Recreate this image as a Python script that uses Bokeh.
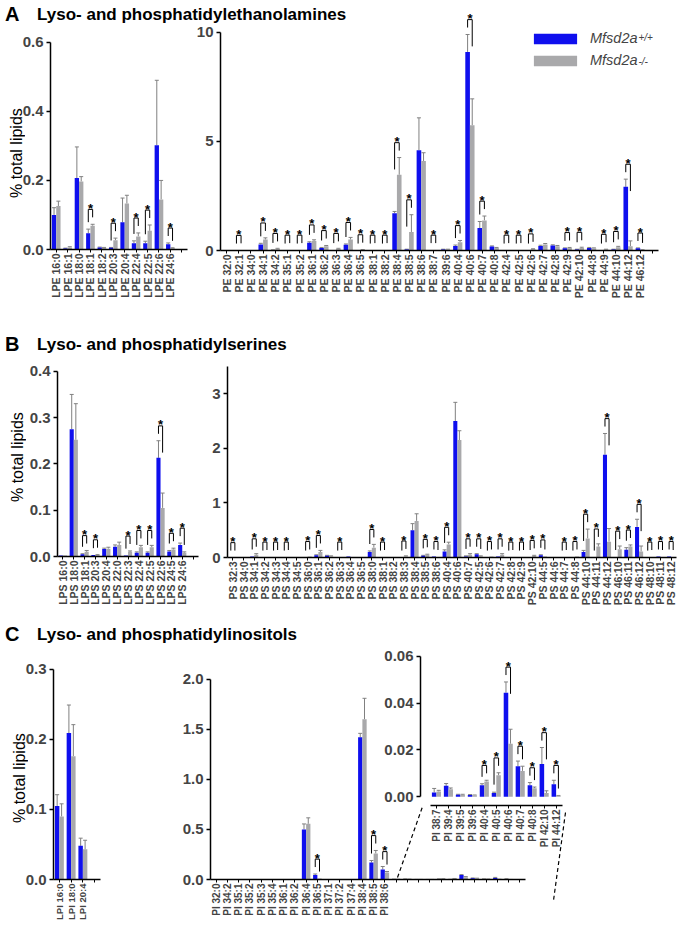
import math
from bokeh.plotting import figure
from bokeh.models import (Range1d, ColumnDataSource, Whisker, TeeHead, FixedTicker,
                          PrintfTickFormatter, Label, Legend, LegendItem, GridBox, Arrow, Div,
                          Column)
from bokeh.embed import file_html
from bokeh.resources import INLINE
from bokeh.core.properties import value

# ---------------- data ----------------
LPE_CATS = ["LPE 16:0", "LPE 16:1", "LPE 18:0", "LPE 18:1", "LPE 18:2", "LPE 20:3",
            "LPE 20:4", "LPE 22:4", "LPE 22:5", "LPE 22:6", "LPE 24:6"]
LPE_WT = [0.100, 0.003, 0.207, 0.047, 0.006, 0.005, 0.079, 0.018, 0.018, 0.302, 0.015]
LPE_WT_SEM = [0.021, 0.001, 0.090, 0.012, 0.001, 0.001, 0.070, 0.007, 0.006, 0.188, 0.004]
LPE_KO = [0.126, 0.006, 0.197, 0.069, 0.005, 0.027, 0.133, 0.038, 0.054, 0.145, 0.004]
LPE_KO_SEM = [0.014, 0.002, 0.014, 0.004, 0.001, 0.006, 0.024, 0.010, 0.017, 0.055, 0.001]
LPE_SIG = ["LPE 18:1", "LPE 20:3", "LPE 22:4", "LPE 22:5", "LPE 24:6"]

PE_CATS = ["PE 32:0", "PE 32:1", "PE 34:0", "PE 34:1", "PE 34:2", "PE 35:1", "PE 35:2",
           "PE 36:1", "PE 36:2", "PE 36:3", "PE 36:4", "PE 36:5", "PE 38:1", "PE 38:2",
           "PE 38:4", "PE 38:5", "PE 38:6", "PE 38:7", "PE 39:6", "PE 40:4", "PE 40:6",
           "PE 40:7", "PE 40:8", "PE 42:4", "PE 42:5", "PE 42:6", "PE 42:7", "PE 42:8",
           "PE 42:9", "PE 42:10", "PE 44:8", "PE 44:9", "PE 44:10", "PE 44:12", "PE 46:12"]
PE_WT = [0.0, 0.0, 0.02, 0.28, 0.02, 0.0, 0.0, 0.35, 0.12, 0.02, 0.26, 0.0, 0.0, 0.0,
         1.71, 0.05, 4.60, 0.02, 0.05, 0.21, 9.10, 1.03, 0.18, 0.0, 0.0, 0.0, 0.21, 0.23,
         0.10, 0.05, 0.12, 0.0, 0.05, 2.92, 0.10]
PE_WT_SEM = [0.0, 0.0, 0.0, 0.05, 0.01, 0.0, 0.0, 0.05, 0.02, 0.0, 0.04, 0.0, 0.0, 0.0,
             0.08, 0.01, 1.48, 0.0, 0.01, 0.04, 0.80, 0.30, 0.03, 0.0, 0.0, 0.0, 0.03, 0.03,
             0.02, 0.01, 0.02, 0.0, 0.01, 0.35, 0.02]
PE_KO = [0.0, 0.01, 0.02, 0.50, 0.08, 0.02, 0.02, 0.44, 0.20, 0.08, 0.50, 0.03, 0.02, 0.02,
         3.47, 0.85, 4.10, 0.02, 0.05, 0.38, 5.74, 1.38, 0.12, 0.02, 0.02, 0.07, 0.28, 0.20,
         0.12, 0.12, 0.10, 0.05, 0.15, 0.20, 0.02]
PE_KO_SEM = [0.0, 0.0, 0.0, 0.08, 0.02, 0.0, 0.0, 0.05, 0.03, 0.02, 0.10, 0.01, 0.0, 0.0,
             0.79, 0.79, 0.38, 0.0, 0.01, 0.08, 1.21, 0.20, 0.02, 0.0, 0.0, 0.01, 0.04, 0.03,
             0.02, 0.03, 0.02, 0.01, 0.04, 0.24, 0.01]
PE_SIG = ["PE 32:1", "PE 34:1", "PE 34:2", "PE 35:1", "PE 35:2", "PE 36:1", "PE 36:2",
          "PE 36:3", "PE 36:4", "PE 36:5", "PE 38:1", "PE 38:2", "PE 38:4", "PE 38:5",
          "PE 38:7", "PE 40:4", "PE 40:6", "PE 40:7", "PE 42:4", "PE 42:5", "PE 42:6",
          "PE 42:9", "PE 42:10", "PE 44:9", "PE 44:10", "PE 44:12", "PE 46:12"]

LPS_CATS = ["LPS 16:0", "LPS 18:0", "LPS 18:1", "LPS 20:3", "LPS 20:4", "LPS 22:0",
            "LPS 22:3", "LPS 22:4", "LPS 22:5", "LPS 22:6", "LPS 24:5", "LPS 24:6"]
LPS_WT = [0.002, 0.275, 0.005, 0.003, 0.016, 0.021, 0.002, 0.008, 0.008, 0.213, 0.011, 0.025]
LPS_WT_SEM = [0.0, 0.075, 0.001, 0.0, 0.002, 0.004, 0.0, 0.002, 0.002, 0.037, 0.002, 0.004]
LPS_KO = [0.002, 0.252, 0.010, 0.003, 0.017, 0.025, 0.010, 0.020, 0.020, 0.105, 0.015, 0.008]
LPS_KO_SEM = [0.0, 0.078, 0.003, 0.001, 0.003, 0.006, 0.002, 0.004, 0.004, 0.032, 0.003, 0.002]
LPS_SIG = ["LPS 18:1", "LPS 20:3", "LPS 22:3", "LPS 22:4", "LPS 22:5", "LPS 22:6",
           "LPS 24:5", "LPS 24:6"]

PS_CATS = ["PS 32:3", "PS 34:0", "PS 34:1", "PS 34:2", "PS 34:3", "PS 34:4", "PS 34:5",
           "PS 36:0", "PS 36:1", "PS 36:2", "PS 36:3", "PS 36:4", "PS 36:5", "PS 38:0",
           "PS 38:1", "PS 38:2", "PS 38:3", "PS 38:4", "PS 38:5", "PS 38:6", "PS 40:4",
           "PS 40:6", "PS 40:7", "PS 42:5", "PS 42:6", "PS 42:7", "PS 42:8", "PS 42:9",
           "PS 42:10", "PS 44:5", "PS 44:6", "PS 44:7", "PS 44:8", "PS 44:10", "PS 44:11",
           "PS 44:12", "PS 46:10", "PS 46:11", "PS 46:12", "PS 48:10", "PS 48:11", "PS 48:12"]
PS_WT = [0.0, 0.0, 0.02, 0.0, 0.0, 0.0, 0.0, 0.0, 0.04, 0.03, 0.0, 0.02, 0.0, 0.10,
         0.0, 0.0, 0.0, 0.50, 0.03, 0.02, 0.11, 2.50, 0.02, 0.06, 0.0, 0.02, 0.0, 0.0,
         0.01, 0.04, 0.0, 0.0, 0.0, 0.10, 0.0, 1.88, 0.01, 0.14, 0.56, 0.0, 0.02, 0.02]
PS_WT_SEM = [0.0, 0.0, 0.0, 0.0, 0.0, 0.0, 0.0, 0.0, 0.01, 0.01, 0.0, 0.0, 0.0, 0.02,
             0.0, 0.0, 0.0, 0.12, 0.01, 0.0, 0.03, 0.34, 0.01, 0.01, 0.0, 0.0, 0.0, 0.0,
             0.0, 0.01, 0.0, 0.0, 0.0, 0.03, 0.0, 0.39, 0.0, 0.04, 0.14, 0.0, 0.0, 0.0]
PS_KO = [0.0, 0.0, 0.05, 0.01, 0.01, 0.01, 0.0, 0.02, 0.10, 0.02, 0.01, 0.01, 0.0, 0.18,
         0.01, 0.0, 0.02, 0.67, 0.05, 0.01, 0.24, 2.15, 0.05, 0.02, 0.02, 0.05, 0.01, 0.01,
         0.03, 0.02, 0.0, 0.01, 0.02, 0.35, 0.20, 0.29, 0.15, 0.20, 0.11, 0.01, 0.01, 0.01]
PS_KO_SEM = [0.0, 0.0, 0.02, 0.0, 0.0, 0.0, 0.0, 0.0, 0.03, 0.01, 0.0, 0.0, 0.0, 0.06,
             0.0, 0.0, 0.01, 0.13, 0.01, 0.0, 0.04, 0.17, 0.02, 0.01, 0.0, 0.02, 0.0, 0.0,
             0.01, 0.0, 0.0, 0.0, 0.0, 0.17, 0.05, 0.24, 0.06, 0.03, 0.10, 0.0, 0.0, 0.0]
PS_SIG = ["PS 32:3", "PS 34:1", "PS 34:2", "PS 34:3", "PS 34:4", "PS 36:0", "PS 36:1",
          "PS 36:3", "PS 38:0", "PS 38:1", "PS 38:3", "PS 38:5", "PS 38:6", "PS 40:4",
          "PS 40:7", "PS 42:5", "PS 42:6", "PS 42:7", "PS 42:8", "PS 42:9", "PS 42:10",
          "PS 44:5", "PS 44:7", "PS 44:8", "PS 44:10", "PS 44:11", "PS 44:12", "PS 46:10",
          "PS 46:11", "PS 46:12", "PS 48:10", "PS 48:11", "PS 48:12"]

LPI_CATS = ["LPI 16:0", "LPI 18:0", "LPI 20:4"]
LPI_WT = [0.105, 0.209, 0.048]
LPI_WT_SEM = [0.016, 0.040, 0.011]
LPI_KO = [0.090, 0.176, 0.043]
LPI_KO_SEM = [0.018, 0.045, 0.013]
LPI_SIG = []

PI_CATS = ["PI 32:0", "PI 34:2", "PI 35:1", "PI 35:2", "PI 35:3", "PI 35:4", "PI 36:1",
           "PI 36:2", "PI 36:4", "PI 36:5", "PI 37:1", "PI 37:2", "PI 37:4", "PI 38:4",
           "PI 38:5", "PI 38:6", "PI 38:7", "PI 39:4", "PI 39:5", "PI 39:6", "PI 40:4",
           "PI 40:5", "PI 40:6", "PI 40:7", "PI 40:8", "PI 42:10", "PI 44:12"]
PI_WT = [0.0, 0.0, 0.0, 0.0, 0.0, 0.0, 0.0, 0.0, 0.50, 0.045, 0.0, 0.0, 0.0, 1.42,
         0.17, 0.10, 0.0018, 0.0046, 0.0008, 0.0007, 0.0049, 0.0015, 0.0444, 0.0130,
         0.0049, 0.0139, 0.0053]
PI_WT_SEM = [0.0, 0.0, 0.0, 0.0, 0.0, 0.0, 0.0, 0.0, 0.055, 0.01, 0.0, 0.0, 0.0, 0.04,
             0.02, 0.03, 0.0017, 0.0010, 0.0002, 0.0002, 0.0006, 0.0004, 0.0046, 0.0022,
             0.0011, 0.0071, 0.0017]
PI_KO = [0.0, 0.0, 0.0, 0.0, 0.0, 0.0, 0.0, 0.0, 0.556, 0.01, 0.0, 0.0, 0.0, 1.60,
         0.26, 0.07, 0.0022, 0.0032, 0.0008, 0.0006, 0.0065, 0.0091, 0.0226, 0.0110,
         0.0036, 0.0015, 0.0004]
PI_KO_SEM = [0.0, 0.0, 0.0, 0.0, 0.0, 0.0, 0.0, 0.0, 0.06, 0.0, 0.0, 0.0, 0.0, 0.21,
             0.03, 0.01, 0.0005, 0.0005, 0.0002, 0.0001, 0.0005, 0.0011, 0.0062, 0.0020,
             0.0005, 0.0010, 0.0001]
PI_SIG = ["PI 36:5", "PI 38:5", "PI 38:6", "PI 40:4", "PI 40:5", "PI 40:6", "PI 40:7",
          "PI 40:8", "PI 42:10", "PI 44:12"]
PI_INSET_FIRST = "PI 38:7"

PANEL_LETTERS = ["A", "B", "C"]
PANEL_TITLES = ["Lyso- and phosphatidylethanolamines", "Lyso- and phosphatidylserines",
                "Lyso- and phosphatidylinositols"]
Y_TITLE = "% total lipids"
LEGEND_LABELS = ["Mfsd2a", "Mfsd2a"]
LEGEND_SUPS = ["+/+", "-/-"]

# ---------------- style / page geometry ----------------
FONT = "Liberation Sans"
BLUE = "#0F0FEE"
GRAY = "#A9A9AB"
ERR = "#808080"
OFF = 0.19
BW = 0.38
PAGE_W, PAGE_H = 682, 930
# identical borders on every plot (Bokeh aligns plot borders inside one grid cell)
PAD_L, PAD_R, PAD_T, PAD_B = 40, 4, 6, 49
EXTRA = 24   # free pixels above the top tick (axis line is bounded at the top tick)


def bar_panel(cats, wt, wt_sem, ko, ko_sem, sig, *, left, axis_top, axis_bottom, width,
              y_end, ticks, fmt, x_end, x_lead=0.0, y_start=0.0, label_px="10.5px",
              hide_from=None, xbounds=None):
    n = len(cats)
    idx = list(range(n))
    ypx = (y_end - y_start) / (axis_bottom - axis_top)
    height = axis_bottom - axis_top + EXTRA
    p = figure(width=PAD_L + width + PAD_R, height=PAD_T + height + PAD_B,
               x_range=Range1d(-0.5 - x_lead, x_end),
               y_range=Range1d(y_start, y_end + EXTRA * ypx),
               output_backend="svg", toolbar_location=None,
               min_border_left=PAD_L, min_border_right=PAD_R,
               min_border_top=PAD_T, min_border_bottom=PAD_B,
               margin=(axis_top - EXTRA - PAD_T, 0, 0, left - PAD_L))
    p.background_fill_alpha = 0
    p.border_fill_alpha = 0
    p.outline_line_color = None
    p.grid.visible = False

    src = ColumnDataSource(dict(
        xb=[i - OFF for i in idx], xg=[i + OFF for i in idx], wt=wt, ko=ko))
    rb = p.vbar(x="xb", top="wt", width=BW, source=src, fill_color=BLUE, line_color=None)
    rg = p.vbar(x="xg", top="ko", width=BW, source=src, fill_color=GRAY, line_color=None)

    for vals, sems, sign in ((wt, wt_sem, -1), (ko, ko_sem, 1)):
        keep = [i for i in idx if sems[i] > 0]
        es = ColumnDataSource(dict(x=[i + sign * OFF for i in keep],
                                   lo=[vals[i] for i in keep],
                                   hi=[vals[i] + sems[i] for i in keep]))
        p.add_layout(Whisker(source=es, base="x", lower="lo", upper="hi",
                             line_color=ERR, line_width=1,
                             upper_head=TeeHead(size=4, line_color=ERR, line_width=1),
                             lower_head=None))

    # significance brackets (pixel sizes converted to data units)
    bx, by, sx, sy = [], [], [], []
    for name in sig:
        if name not in cats:
            continue
        i = cats.index(name)
        tb = wt[i] + wt_sem[i] + 7 * ypx
        tg = ko[i] + ko_sem[i] + 7 * ypx
        t = max(tb, tg) + 8 * ypx
        lb = max(tb, t - 27 * ypx)
        lg = max(tg, t - 27 * ypx)
        bx.append([i - OFF, i - OFF, i + OFF, i + OFF])
        by.append([lb, t, t, lg])
        sx.append(i)
        sy.append(t + 1 * ypx)
    if bx:
        p.multi_line(bx, by, line_color="black", line_width=1)
        p.text(sx, sy, text=["*"] * len(sx), text_font=value(FONT),
               text_font_style="bold", text_font_size="13px", text_align="center",
               text_baseline="alphabetic", text_color="black")

    # axes
    n_ticks = int(math.floor(x_end - 0.5 + 1e-9)) + 1
    p.xaxis.ticker = FixedTicker(ticks=list(range(n_ticks)))
    overrides = {}
    for i in range(n_ticks):
        lab = cats[i] if i < n else ""
        if hide_from is not None and i >= hide_from:
            lab = ""
        overrides[i] = lab
    p.xaxis.major_label_overrides = overrides
    p.xaxis.major_label_orientation = math.pi / 2
    p.xaxis.major_label_text_font = FONT
    p.xaxis.major_label_text_font_style = "bold"
    p.xaxis.major_label_text_font_size = label_px
    p.xaxis.major_label_standoff = 1
    p.xaxis.major_tick_out = 3
    p.xaxis.major_tick_in = 0
    p.xaxis.minor_tick_line_color = None
    p.xaxis.axis_line_width = 1.5
    p.xaxis.major_tick_line_width = 1
    if xbounds is not None:
        p.xaxis.bounds = xbounds

    p.yaxis.ticker = FixedTicker(ticks=ticks)
    p.yaxis.formatter = PrintfTickFormatter(format=fmt)
    p.yaxis.major_label_text_font = FONT
    p.yaxis.major_label_text_font_style = "bold"
    p.yaxis.major_label_text_font_size = "15px"
    p.yaxis.major_label_standoff = 3
    p.yaxis.major_tick_out = 4
    p.yaxis.major_tick_in = 0
    p.yaxis.minor_tick_line_color = None
    p.yaxis.axis_line_width = 1.5
    p.yaxis.major_tick_line_width = 1.5
    p.yaxis.bounds = (max(0.0, y_start), y_end)
    return p, rb, rg


figs = []

# ---- Panel A ----
lpe, _, _ = bar_panel(LPE_CATS, LPE_WT, LPE_WT_SEM, LPE_KO, LPE_KO_SEM, LPE_SIG,
                      left=50, axis_top=42, axis_bottom=251, width=137, y_end=0.6,
                      ticks=[0, 0.2, 0.4, 0.6], fmt="%.1f", x_end=len(LPE_CATS) + 0.5)
pe, pe_b, pe_g = bar_panel(PE_CATS, PE_WT, PE_WT_SEM, PE_KO, PE_KO_SEM, PE_SIG,
                           left=220, axis_top=32, axis_bottom=252, width=438, y_end=10,
                           ticks=[0, 5, 10], fmt="%d", x_end=len(PE_CATS) + 0.5)
leg = Legend(items=[LegendItem(label=LEGEND_LABELS[0], renderers=[pe_b]),
                    LegendItem(label=LEGEND_LABELS[1], renderers=[pe_g])],
             location=(308, 182), glyph_width=54, glyph_height=13, label_standoff=8,
             spacing=6, padding=0, margin=0, border_line_color=None,
             background_fill_alpha=0, label_text_font=FONT,
             label_text_font_style="italic", label_text_font_size="14.5px")
pe.add_layout(leg)
figs += [lpe, pe]

# ---- Panel B ----
lps, _, _ = bar_panel(LPS_CATS, LPS_WT, LPS_WT_SEM, LPS_KO, LPS_KO_SEM, LPS_SIG,
                      left=57, axis_top=371, axis_bottom=558, width=141, y_end=0.4,
                      ticks=[0, 0.1, 0.2, 0.3, 0.4], fmt="%.1f", x_end=len(LPS_CATS) + 0.5)
ps, _, _ = bar_panel(PS_CATS, PS_WT, PS_WT_SEM, PS_KO, PS_KO_SEM, PS_SIG,
                     left=227, axis_top=366, axis_bottom=559, width=449, y_end=3.5,
                     ticks=[0, 1, 2, 3], fmt="%d", x_end=len(PS_CATS) - 0.5)
figs += [lps, ps]

# ---- Panel C ----
lpi, _, _ = bar_panel(LPI_CATS, LPI_WT, LPI_WT_SEM, LPI_KO, LPI_KO_SEM, LPI_SIG,
                      left=53, axis_top=669, axis_bottom=881, width=47, y_end=0.3,
                      ticks=[0, 0.1, 0.2, 0.3], fmt="%.1f", x_end=len(LPI_CATS) + 0.5,
                      label_px="9.5px")
k0 = PI_CATS.index(PI_INSET_FIRST)
pi_main, _, _ = bar_panel(PI_CATS, PI_WT, PI_WT_SEM, PI_KO, PI_KO_SEM,
                          [s for s in PI_SIG if PI_CATS.index(s) < k0],
                          left=210, axis_top=679, axis_bottom=881, width=315, y_end=2.0,
                          ticks=[0, 0.5, 1.0, 1.5, 2.0], fmt="%.1f",
                          x_end=len(PI_CATS) + 0.5, hide_from=k0, label_px="10px")
inset_ypx = 0.02 / 47.5
pi_inset, _, _ = bar_panel(PI_CATS[k0:], PI_WT[k0:], PI_WT_SEM[k0:], PI_KO[k0:],
                           PI_KO_SEM[k0:], PI_SIG, left=420, axis_top=656,
                           axis_bottom=807, width=144, y_start=-9 * inset_ypx, y_end=0.06,
                           ticks=[0, 0.02, 0.04, 0.06], fmt="%.2f",
                           x_end=len(PI_CATS) - k0 - 0.5 + 0.2, x_lead=10 / 12,
                           xbounds=(-0.5, len(PI_CATS) - k0 - 0.5), label_px="10px")
figs += [lpi, pi_main, pi_inset]

# ---------------- page overlay (page pixel coordinates) ----------------
ov = figure(width=PAGE_W, height=PAGE_H,
            x_range=Range1d(PAD_L, PAGE_W - PAD_R),
            y_range=Range1d(PAGE_H - PAD_B, PAD_T),
            output_backend="svg", toolbar_location=None,
            min_border_left=PAD_L, min_border_right=PAD_R,
            min_border_top=PAD_T, min_border_bottom=PAD_B,
            x_axis_location=None, y_axis_location=None, margin=(0, 0, 0, 0))
ov.grid.visible = False
ov.outline_line_color = None

for sup, yb in zip(LEGEND_SUPS, (37, 61)):
    ov.add_layout(Label(x=638, y=yb, text=sup, text_font=FONT, text_font_style="italic",
                        text_font_size="10px", text_baseline="alphabetic"))

ov.add_layout(Arrow(x_start=397, y_start=879, x_end=422, y_end=808, start=None, end=None,
                    line_color="black", line_width=1.2, line_dash="4 3"))

# right zoom connector: small border-less plot wrapped in a column
CX0, CY0, CW, CH = 530, 790, 60, 120
conn = figure(width=CW, height=CH, x_range=Range1d(CX0, CX0 + CW),
              y_range=Range1d(CY0 + CH, CY0), output_backend="svg",
              toolbar_location=None, min_border=0, x_axis_location=None,
              y_axis_location=None)
conn.grid.visible = False
conn.outline_line_color = None
conn.background_fill_alpha = 0
conn.border_fill_alpha = 0
conn.add_layout(Arrow(x_start=565, y_start=812, x_end=553, y_end=900, start=None, end=None,
                      line_color="black", line_width=1.2, line_dash="4 3"))
conn_box = Column(children=[conn], margin=(CY0, 0, 0, CX0))

# ---------------- HTML texts: panel letters, panel titles, y-axis titles ----------------
texts = []
for letter, title, top in zip(PANEL_LETTERS, PANEL_TITLES, (3, 333, 623)):
    texts.append(Div(text=letter, width=24, height=24, margin=(top - 1, 0, 0, 5),
                     styles={"font-family": FONT, "font-weight": "bold",
                             "font-size": "20px", "line-height": "24px",
                             "white-space": "nowrap", "color": "black"}))
    texts.append(Div(text=title, width=360, height=20, margin=(top + 2, 0, 0, 37),
                     styles={"font-family": FONT, "font-weight": "bold",
                             "font-size": "17px", "line-height": "20px",
                             "white-space": "nowrap", "color": "black"}))
for cx, cy in ((17, 153), (18, 457), (20, 778)):
    texts.append(Div(text=Y_TITLE, width=18, height=140, margin=(cy - 70, 0, 0, cx - 9),
                     styles={"font-family": FONT, "font-size": "16px",
                             "line-height": "18px", "white-space": "nowrap",
                             "writing-mode": "vertical-rl", "transform": "rotate(180deg)",
                             "text-align": "center", "color": "black"}))

grid = GridBox(children=[(ov, 0, 0)] + [(f, 0, 0) for f in figs] + [(conn_box, 0, 0)]
               + [(t, 0, 0) for t in texts])

open("out.html", "w").write(file_html(grid, INLINE))
